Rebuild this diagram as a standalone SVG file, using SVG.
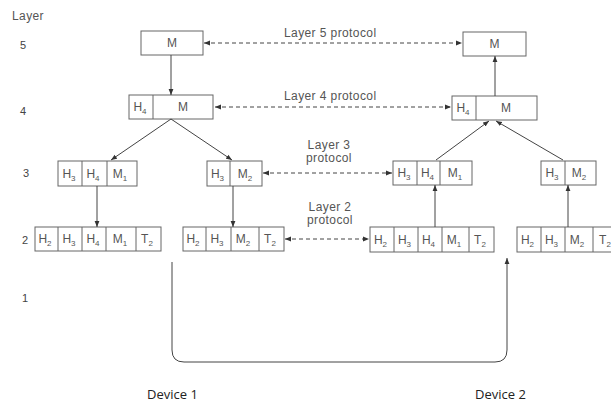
<svg xmlns="http://www.w3.org/2000/svg" width="611" height="405" viewBox="0 0 611 405">
<defs>
<marker id="ah" viewBox="0 0 10 10" refX="10" refY="5" markerWidth="6" markerHeight="6" orient="auto-start-reverse" markerUnits="userSpaceOnUse">
<path d="M0,1 L10,5 L0,9 Z" fill="#333"/>
</marker>
<style>
.box{fill:#fff;stroke:#666;stroke-width:1}
.div{stroke:#666;stroke-width:1}
.ct{font-family:"Liberation Sans",Arial,sans-serif;font-size:12px;fill:#555;text-anchor:middle}
.lbl{font-family:"Liberation Sans",Arial,sans-serif;font-size:12px;fill:#555;letter-spacing:0.4px}
.lblc{font-family:"Liberation Sans",Arial,sans-serif;font-size:12px;fill:#555;letter-spacing:0.4px;text-anchor:middle}
.num{font-family:"Liberation Sans",Arial,sans-serif;font-size:11px;fill:#444;text-anchor:middle}
.dev{font-family:"Open Sans","Noto Sans",sans-serif;font-size:13px;fill:#222}
.ln{fill:none;stroke:#444;stroke-width:1}
.dash{fill:none;stroke:#444;stroke-width:1;stroke-dasharray:4 3}
</style>
</defs>
<rect width="611" height="405" fill="#fff"/>

<g id="layer-labels">
<text class="lbl" x="12" y="20" font-size="11">Layer</text>
<text class="num" x="23" y="49">5</text>
<text class="num" x="23" y="115">4</text>
<text class="num" x="26" y="177">3</text>
<text class="num" x="25" y="244">2</text>
<text class="num" x="25" y="302">1</text>
</g>

<g id="d1-l5">
<rect class="box" x="141" y="31" width="62" height="24"/>
<text class="ct" x="172" y="47">M</text>
</g>
<g id="d2-l5">
<rect class="box" x="463" y="32" width="63" height="24"/>
<text class="ct" x="494.5" y="48">M</text>
</g>

<g id="d1-l4">
<rect class="box" x="129" y="95" width="84" height="24"/>
<line class="div" x1="153" y1="95" x2="153" y2="119"/>
<text class="ct" x="140" y="111">H<tspan font-size="8" dy="3">4</tspan></text>
<text class="ct" x="183" y="111">M</text>
</g>
<g id="d2-l4">
<rect class="box" x="452" y="96" width="85" height="24"/>
<line class="div" x1="476" y1="96" x2="476" y2="120"/>
<text class="ct" x="463" y="112">H<tspan font-size="8" dy="3">4</tspan></text>
<text class="ct" x="506" y="112">M</text>
</g>

<g id="d1-l3a">
<rect class="box" x="58" y="161" width="79" height="25"/>
<line class="div" x1="82" y1="161" x2="82" y2="186"/>
<line class="div" x1="107" y1="161" x2="107" y2="186"/>
<text class="ct" x="69" y="178">H<tspan font-size="8" dy="3">3</tspan></text>
<text class="ct" x="93" y="178">H<tspan font-size="8" dy="3">4</tspan></text>
<text class="ct" x="120" y="178">M<tspan font-size="8" dy="3">1</tspan></text>
</g>
<g id="d1-l3b">
<rect class="box" x="207" y="161" width="55" height="25"/>
<line class="div" x1="230" y1="161" x2="230" y2="186"/>
<text class="ct" x="217.5" y="178">H<tspan font-size="8" dy="3">3</tspan></text>
<text class="ct" x="245" y="178">M<tspan font-size="8" dy="3">2</tspan></text>
</g>
<g id="d2-l3a">
<rect class="box" x="393" y="161" width="79" height="24"/>
<line class="div" x1="417" y1="161" x2="417" y2="185"/>
<line class="div" x1="440" y1="161" x2="440" y2="185"/>
<text class="ct" x="404" y="177">H<tspan font-size="8" dy="3">3</tspan></text>
<text class="ct" x="427.5" y="177">H<tspan font-size="8" dy="3">4</tspan></text>
<text class="ct" x="455" y="177">M<tspan font-size="8" dy="3">1</tspan></text>
</g>
<g id="d2-l3b">
<rect class="box" x="541" y="161" width="55" height="24"/>
<line class="div" x1="565" y1="161" x2="565" y2="185"/>
<text class="ct" x="552" y="177">H<tspan font-size="8" dy="3">3</tspan></text>
<text class="ct" x="579" y="177">M<tspan font-size="8" dy="3">2</tspan></text>
</g>

<g id="d1-l2a">
<rect class="box" x="35" y="227" width="126" height="24"/>
<line class="div" x1="58" y1="227" x2="58" y2="251"/>
<line class="div" x1="82" y1="227" x2="82" y2="251"/>
<line class="div" x1="106" y1="227" x2="106" y2="251"/>
<line class="div" x1="136" y1="227" x2="136" y2="251"/>
<text class="ct" x="45" y="243">H<tspan font-size="8" dy="3">2</tspan></text>
<text class="ct" x="69" y="243">H<tspan font-size="8" dy="3">3</tspan></text>
<text class="ct" x="93" y="243">H<tspan font-size="8" dy="3">4</tspan></text>
<text class="ct" x="120" y="243">M<tspan font-size="8" dy="3">1</tspan></text>
<text class="ct" x="147" y="243">T<tspan font-size="8" dy="3">2</tspan></text>
</g>
<g id="d1-l2b">
<rect class="box" x="183" y="227" width="101" height="24"/>
<line class="div" x1="206" y1="227" x2="206" y2="251"/>
<line class="div" x1="231" y1="227" x2="231" y2="251"/>
<line class="div" x1="259" y1="227" x2="259" y2="251"/>
<text class="ct" x="193" y="243">H<tspan font-size="8" dy="3">2</tspan></text>
<text class="ct" x="217" y="243">H<tspan font-size="8" dy="3">3</tspan></text>
<text class="ct" x="243" y="243">M<tspan font-size="8" dy="3">2</tspan></text>
<text class="ct" x="270" y="243">T<tspan font-size="8" dy="3">2</tspan></text>
</g>
<g id="d2-l2a">
<rect class="box" x="370" y="227" width="124" height="25"/>
<line class="div" x1="394" y1="227" x2="394" y2="252"/>
<line class="div" x1="418" y1="227" x2="418" y2="252"/>
<line class="div" x1="442" y1="227" x2="442" y2="252"/>
<line class="div" x1="469" y1="227" x2="469" y2="252"/>
<text class="ct" x="380.5" y="244">H<tspan font-size="8" dy="3">2</tspan></text>
<text class="ct" x="404.5" y="244">H<tspan font-size="8" dy="3">3</tspan></text>
<text class="ct" x="428.5" y="244">H<tspan font-size="8" dy="3">4</tspan></text>
<text class="ct" x="454" y="244">M<tspan font-size="8" dy="3">1</tspan></text>
<text class="ct" x="480" y="244">T<tspan font-size="8" dy="3">2</tspan></text>
</g>
<g id="d2-l2b">
<rect class="box" x="517" y="227" width="101" height="25"/>
<line class="div" x1="541" y1="227" x2="541" y2="252"/>
<line class="div" x1="565" y1="227" x2="565" y2="252"/>
<line class="div" x1="593" y1="227" x2="593" y2="252"/>
<text class="ct" x="527.5" y="244">H<tspan font-size="8" dy="3">2</tspan></text>
<text class="ct" x="551.5" y="244">H<tspan font-size="8" dy="3">3</tspan></text>
<text class="ct" x="577" y="244">M<tspan font-size="8" dy="3">2</tspan></text>
<text class="ct" x="605" y="244">T<tspan font-size="8" dy="3">2</tspan></text>
</g>

<g id="protocol-labels">
<text class="lbl" x="284" y="37">Layer 5 protocol</text>
<text class="lbl" x="284" y="100">Layer 4 protocol</text>
<text class="lblc" x="329" y="149">Layer 3</text>
<text class="lblc" x="329" y="162">protocol</text>
<text class="lblc" x="330" y="211">Layer 2</text>
<text class="lblc" x="330" y="224">protocol</text>
</g>

<g id="devices">
<text class="dev" x="147" y="399">Device 1</text>
<text class="dev" x="475" y="399">Device 2</text>
</g>

<g id="connectors">
<line class="dash" x1="204" y1="43" x2="462" y2="43" marker-start="url(#ah)" marker-end="url(#ah)"/>
<line class="dash" x1="215" y1="107" x2="451" y2="107" marker-start="url(#ah)" marker-end="url(#ah)"/>
<line class="dash" x1="263" y1="173" x2="392" y2="173" marker-start="url(#ah)" marker-end="url(#ah)"/>
<line class="dash" x1="285" y1="239" x2="369" y2="239" marker-start="url(#ah)" marker-end="url(#ah)"/>
<line class="ln" x1="171" y1="55" x2="171" y2="95" marker-end="url(#ah)"/>
<line class="ln" x1="495" y1="96" x2="495" y2="56" marker-end="url(#ah)"/>
<line class="ln" x1="171" y1="119" x2="111" y2="160" marker-end="url(#ah)"/>
<line class="ln" x1="171" y1="119" x2="232" y2="160" marker-end="url(#ah)"/>
<line class="ln" x1="436" y1="160" x2="489" y2="121" marker-end="url(#ah)"/>
<line class="ln" x1="563" y1="160" x2="496" y2="121" marker-end="url(#ah)"/>
<line class="ln" x1="97" y1="186" x2="97" y2="227" marker-end="url(#ah)"/>
<line class="ln" x1="233" y1="186" x2="233" y2="227" marker-end="url(#ah)"/>
<line class="ln" x1="435" y1="227" x2="435" y2="185" marker-end="url(#ah)"/>
<line class="ln" x1="568" y1="227" x2="568" y2="185" marker-end="url(#ah)"/>
<path class="ln" d="M172,262 V350 Q172,362 184,362 H495 Q507,362 507,350 V258" marker-end="url(#ah)"/>
</g>
</svg>
